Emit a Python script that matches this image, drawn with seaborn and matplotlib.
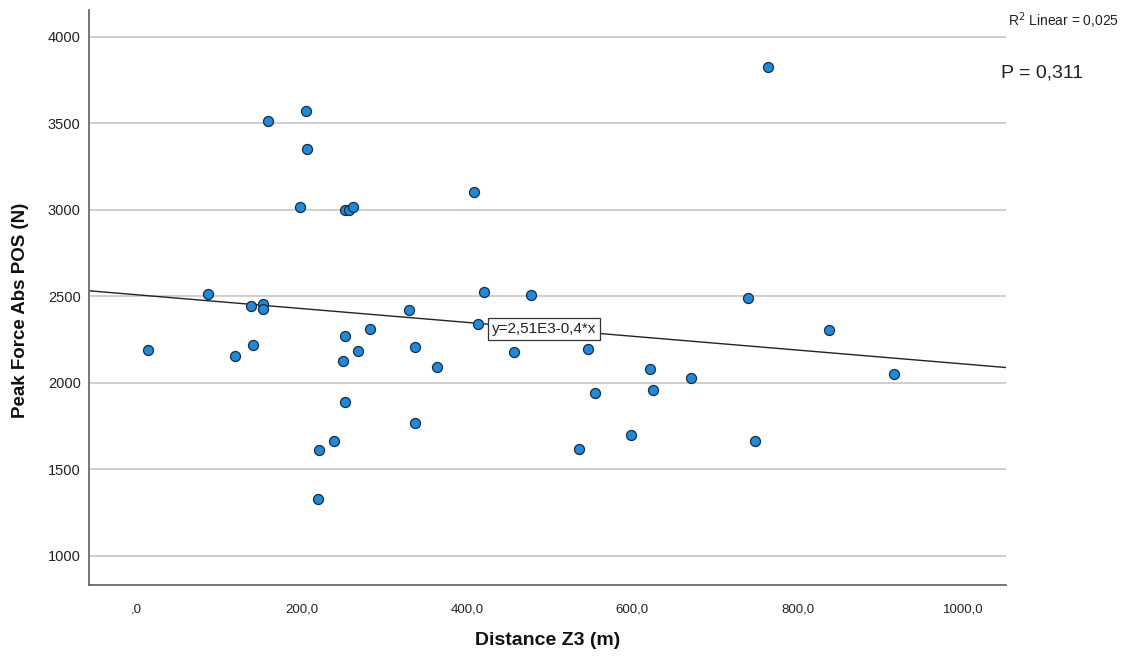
import numpy as np
import pandas as pd
import matplotlib
matplotlib.use("Agg")
import matplotlib.pyplot as plt
from matplotlib.ticker import FuncFormatter
import seaborn as sns

# Distance covered in zone 3 (m) and absolute peak force (N)
distance_z3 = [14, 87, 119, 139, 141, 154, 154, 159, 198, 205, 207, 221, 220,
               239, 250, 252, 252, 252, 257, 262, 268, 283, 330, 337, 337, 364,
               408, 413, 421, 457, 478, 535, 546, 555, 598, 622, 625, 671, 740,
               748, 764, 838, 917]
peak_force = [2190, 2512, 2157, 2444, 2220, 2454, 2425, 3516, 3015, 3572, 3352,
              1611, 1330, 1662, 2124, 3001, 2272, 1889, 2998, 3017, 2186, 2311,
              2423, 2207, 1769, 2093, 3104, 2338, 2527, 2180, 2506, 1621, 2199,
              1943, 1698, 2080, 1958, 2028, 2489, 1667, 3828, 2307, 2049]

# Linear fit as reported: y = 2.51E3 - 0.4 * x
fit_intercept = 2510
fit_slope = -0.4
r2_text = "R$^2$ Linear = 0,025"
p_text = "P = 0,311"
eq_text = "y=2,51E3-0,4*x"

x_ticks = [0, 200, 400, 600, 800, 1000]
y_ticks = [1000, 1500, 2000, 2500, 3000, 3500, 4000]
x_range = (-57, 1052)
y_range = (832, 4156)

df = pd.DataFrame({"Distance Z3 (m)": distance_z3,
                   "Peak Force Abs POS (N)": peak_force})

sns.set_theme(style="white")
plt.rcParams["font.family"] = ["Liberation Sans", "DejaVu Sans"]

fig = plt.figure(figsize=(11.31, 6.57), dpi=100)
ax = fig.add_axes([0.0787, 0.1096, 0.8108, 0.8752])

# horizontal reference lines
for yv in y_ticks:
    ax.axhline(yv, color="#cfcfcf", lw=1.4, zorder=0)

# fit line across the full x range
line_x = np.array(x_range, dtype=float)
line_df = pd.DataFrame({"x": line_x, "y": fit_intercept + fit_slope * line_x})
sns.lineplot(data=line_df, x="x", y="y", ax=ax, color="#222222", lw=1.0,
             zorder=2)

sns.scatterplot(data=df, x="Distance Z3 (m)", y="Peak Force Abs POS (N)",
                ax=ax, s=52, color="#1a8be0", edgecolor="#1c2b3a",
                linewidth=0.9, zorder=3)

ax.set_xlim(*x_range)
ax.set_ylim(*y_range)
ax.set_xticks(x_ticks)
ax.set_yticks(y_ticks)


def comma_fmt(v, pos):
    s = f"{v:.1f}".replace(".", ",")
    return s[1:] if s.startswith("0,") else s


ax.xaxis.set_major_formatter(FuncFormatter(comma_fmt))
ax.yaxis.set_major_formatter(FuncFormatter(lambda v, p: f"{int(v)}"))
ax.tick_params(axis="both", length=0, colors="#222222")
ax.tick_params(axis="x", pad=13, labelsize=9.5)
ax.tick_params(axis="y", pad=6, labelsize=10.5)

for side in ("top", "right"):
    ax.spines[side].set_visible(False)
for side in ("left", "bottom"):
    ax.spines[side].set_color("#6a6a6a")
    ax.spines[side].set_linewidth(1.3)

ax.set_xlabel("Distance Z3 (m)", fontsize=14, fontweight="bold",
              color="#111111", labelpad=12)
ax.set_ylabel("Peak Force Abs POS (N)", fontsize=13.5, fontweight="bold",
              color="#111111")
ax.yaxis.set_label_coords(-0.065, 0.478)

# equation label on the fit line
ax.text(430, 2311, eq_text, fontsize=11, color="#222222", ha="left",
        va="center", zorder=4,
        bbox=dict(boxstyle="square,pad=0.25", fc="white", ec="#333333",
                  lw=0.9))

fig.text(1008 / 1131, 1 - 21 / 657, r2_text, fontsize=10, color="#222222",
         ha="left", va="center")
fig.text(1001 / 1131, 1 - 73 / 657, p_text, fontsize=14, color="#222222",
         ha="left", va="center")

fig.savefig("out.png", dpi=100)
